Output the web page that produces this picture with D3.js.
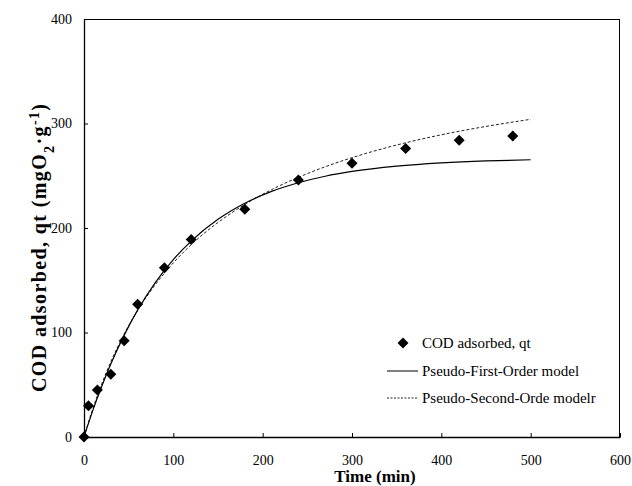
<!DOCTYPE html>
<html><head><meta charset="utf-8">
<script src="https://cdn.jsdelivr.net/npm/d3@7"></script>
<style>body{margin:0;background:#fff} text{font-family:"Liberation Serif","DejaVu Serif",serif;}</style>
</head><body>
<svg id="c" width="632" height="486"></svg>
<script>
const obsTime = [0,5,15,30,45,60,90,120,180,240,300,360,420,480];
const obsQt   = [0,30,45,60,92,127,162,189,218,246,262,276,284,288];
const modelTime = [0,10,20,30,45,60,80,100,120,150,180,210,240,270,300,350,400,450,500];
const pfoQt = [0,25.7,48.8,69.8,97.5,121.4,148.0,169.8,187.5,208.3,223.7,235.0,243.3,249.5,254.1,259.2,262.3,264.2,265.3];
const psoQt = [0,27.4,51.1,71.9,98.6,121.1,146.0,166.6,184.0,205.3,222.5,236.7,248.5,258.6,267.3,279.4,289.2,297.2,304.0];
const xTicks = [0,100,200,300,400,500,600];
const yTicks = [0,100,200,300,400];
const legendLabels = ["COD adsorbed, qt","Pseudo-First-Order model","Pseudo-Second-Orde modelr"];

const svg = d3.select("#c");
const L=84, R=620, T=19, B=437;
const x = d3.scaleLinear().domain([0,600]).range([L,R]);
const y = d3.scaleLinear().domain([0,400]).range([B,T]);
const font = "Liberation Serif, DejaVu Serif, serif";

// frame
svg.append("rect").attr("x",L+0.5).attr("y",T+0.5).attr("width",R-L-1).attr("height",B-T)
  .attr("fill","none").attr("stroke","#000").attr("stroke-width",1);

// x axis
const gx = svg.append("g").attr("transform",`translate(0,${B})`)
  .call(d3.axisBottom(x).tickValues(xTicks).tickSizeInner(-4).tickSizeOuter(0).tickFormat(d3.format("d")));
gx.attr("font-family",null).attr("font-size",null);
gx.select(".domain").attr("stroke","#000").attr("stroke-width",1.3);
gx.selectAll(".tick line").attr("stroke","#000");
gx.selectAll(".tick text").attr("y",28).attr("dy",0).style("font-family",font).style("font-size","14px").attr("fill","#000");

// y axis
const gy = svg.append("g").attr("transform",`translate(${L},0)`)
  .call(d3.axisLeft(y).tickValues(yTicks).tickSizeInner(-4).tickSizeOuter(0).tickFormat(d3.format("d")));
gy.attr("font-family",null).attr("font-size",null);
gy.select(".domain").attr("stroke","#000").attr("stroke-width",1.3);
gy.selectAll(".tick line").attr("stroke","#000");
gy.selectAll(".tick text").attr("x",-12).attr("dy","0.32em").style("font-family",font).style("font-size","14px").attr("fill","#000");

// curves
const line = d3.line().x(d=>x(d[0])).y(d=>y(d[1])).curve(d3.curveMonotoneX);
svg.append("path").datum(modelTime.map((t,i)=>[t,psoQt[i]])).attr("d",line)
  .attr("fill","none").attr("stroke","#222").attr("stroke-width",1).attr("stroke-dasharray","3,2");
svg.append("path").datum(modelTime.map((t,i)=>[t,pfoQt[i]])).attr("d",line)
  .attr("fill","none").attr("stroke","#000").attr("stroke-width",1.2);

// points
const diamond = "M0,-5.5L5.5,0L0,5.5L-5.5,0Z";
svg.selectAll(".pt").data(obsTime.map((t,i)=>[t,obsQt[i]])).enter().append("path")
  .attr("class","pt").attr("d",diamond)
  .attr("transform",d=>`translate(${x(d[0])},${y(d[1])})`).attr("fill","#000");

// legend
const lg = svg.append("g");
lg.append("path").attr("d",diamond).attr("transform","translate(403,343)").attr("fill","#000");
lg.append("line").attr("x1",387).attr("x2",418).attr("y1",371).attr("y2",371).attr("stroke","#000").attr("stroke-width",1);
lg.append("line").attr("x1",387).attr("x2",418).attr("y1",398).attr("y2",398).attr("stroke","#222").attr("stroke-width",1).attr("stroke-dasharray","2,1.5");
[348,376,403].forEach((yy,i)=>{
  lg.append("text").attr("x",422).attr("y",yy).style("font-family",font).style("font-size","15px")
    .attr("fill","#000").text(legendLabels[i]);
});

// axis titles
svg.append("text").attr("x",375).attr("y",482).attr("text-anchor","middle")
  .style("font-family",font).style("font-size","17px").attr("font-weight","bold").text("Time (min)");

const yt = svg.append("text").attr("transform","translate(46,248) rotate(-90)").attr("text-anchor","middle")
  .attr("textLength",288).attr("lengthAdjust","spacing")
  .style("font-family",font).style("font-size","20px").attr("font-weight","bold");
yt.append("tspan").text("COD adsorbed, qt (mgO");
yt.append("tspan").attr("baseline-shift","sub").style("font-size","14px").text("2");
yt.append("tspan").text("·g");
yt.append("tspan").attr("baseline-shift","super").style("font-size","14px").text("-1");
yt.append("tspan").text(")");
</script>
</body></html>
